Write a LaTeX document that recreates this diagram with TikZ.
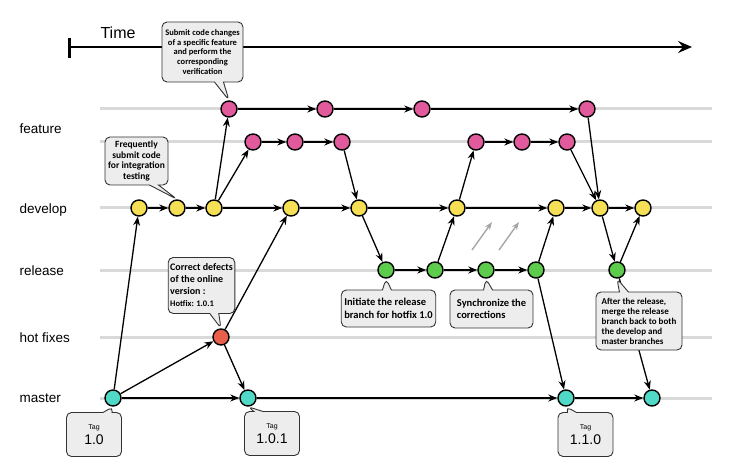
\documentclass[tikz,border=0pt]{standalone}
\usepackage{fontspec}
\setmainfont{Liberation Sans}
\newfontfamily\notefont{Carlito}
\usetikzlibrary{arrows.meta,shapes.callouts}

\definecolor{featpink}{HTML}{E05A9C}
\definecolor{devyellow}{HTML}{F4DF55}
\definecolor{relgreen}{HTML}{5DCB4C}
\definecolor{fixred}{HTML}{E8604A}
\definecolor{mastteal}{HTML}{4FD9C6}

\tikzset{
    commit/.style={circle, draw=black, line width=1.4pt, minimum size=16pt, inner sep=0pt},
    feat/.style={commit, fill=featpink},
    dev/.style={commit, fill=devyellow},
    rel/.style={commit, fill=relgreen},
    fix/.style={commit, fill=fixred},
    mast/.style={commit, fill=mastteal},
    lane/.style={black!15, line width=3pt},
    flow/.style={-{Stealth[length=9pt,width=7pt]}, line width=1.3pt},
    sync/.style={-{Stealth[length=8pt,width=6pt]}, line width=1.4pt, black!35},
    lanelabel/.style={anchor=west, font=\fontsize{13.5}{15}\selectfont},
    note/.style={rectangle callout, draw=black!80, fill=black!7, rounded corners=5pt,
        line width=0.9pt, inner sep=3pt, callout pointer width=9pt,
        font=\notefont\bfseries\fontsize{8.5}{9.8}\selectfont},
    tagnote/.style={note, align=center, minimum width=55pt, minimum height=44pt,
        font=\fontsize{14}{15}\selectfont}
}

\begin{document}
\begin{tikzpicture}[x=1pt,y=-1pt]
    \useasboundingbox (0,0) rectangle (733,470);

    % lanes
    \foreach \y in {109,142,208,270,337,398}
        \draw [lane] (100,\y) -- (712,\y);

    % time axis
    \coordinate (tstart) at (69,47);
    \coordinate (tend) at (692,47);
    \draw [line width=2pt, -{Stealth[length=14pt,width=12pt,inset=5pt]}] (tstart) -- (tend);
    \draw [line width=3pt] (69,38) -- (69,58);
    \node (time) [anchor=west, font=\fontsize{16}{18}\selectfont] at (97,33) {Time};

    % lane labels
    \node (lfeature) [lanelabel] at (16,129) {feature};
    \node (ldevelop) [lanelabel] at (16,210) {develop};
    \node (lrelease) [lanelabel] at (16,271) {release};
    \node (lhotfix)  [lanelabel] at (16,338) {hot fixes};
    \node (lmaster)  [lanelabel] at (16,398) {master};

    % commits
    \node (f1) [feat] at (229,109) {};
    \node (f2) [feat] at (325,109) {};
    \node (f3) [feat] at (422,109) {};
    \node (f4) [feat] at (587,109) {};

    \node (g1) [feat] at (253,142) {};
    \node (g2) [feat] at (295,142) {};
    \node (g3) [feat] at (342,142) {};
    \node (g4) [feat] at (476,142) {};
    \node (g5) [feat] at (522,142) {};
    \node (g6) [feat] at (567,142) {};

    \node (d1) [dev] at (139,208) {};
    \node (d2) [dev] at (177,208) {};
    \node (d3) [dev] at (214,208) {};
    \node (d4) [dev] at (291,208) {};
    \node (d5) [dev] at (359,208) {};
    \node (d6) [dev] at (457,208) {};
    \node (d7) [dev] at (556,208) {};
    \node (d8) [dev] at (600,208) {};
    \node (d9) [dev] at (643,208) {};

    \node (r1) [rel] at (386,270) {};
    \node (r2) [rel] at (435,270) {};
    \node (r3) [rel] at (486,270) {};
    \node (r4) [rel] at (536,270) {};
    \node (r5) [rel] at (617,270) {};

    \node (h1) [fix] at (221,337) {};

    \node (m1) [mast] at (113,398) {};
    \node (m2) [mast] at (248,398) {};
    \node (m3) [mast] at (566,398) {};
    \node (m4) [mast] at (652,398) {};

    % connections
    \draw [flow] (m1) -- (d1);
    \draw [flow] (m1) -- (h1);
    \draw [flow] (m1) -- (m2);
    \draw [flow] (h1) -- (m2);
    \draw [flow] (h1) -- (d4);

    \draw [flow] (d1) -- (d2);
    \draw [flow] (d2) -- (d3);
    \draw [flow] (d3) -- (f1);
    \draw [flow] (d3) -- (g1);
    \draw [flow] (d3) -- (d4);

    \draw [flow] (f1) -- (f2);
    \draw [flow] (f2) -- (f3);
    \draw [flow] (f3) -- (f4);
    \draw [flow] (f4) -- (d8);

    \draw [flow] (g1) -- (g2);
    \draw [flow] (g2) -- (g3);
    \draw [flow] (g3) -- (d5);

    \draw [flow] (d4) -- (d5);
    \draw [flow] (d5) -- (r1);
    \draw [flow] (d5) -- (d6);
    \draw [flow] (d6) -- (g4);
    \draw [flow] (g4) -- (g5);
    \draw [flow] (g5) -- (g6);
    \draw [flow] (g6) -- (d8);
    \draw [flow] (d6) -- (d7);
    \draw [flow] (d7) -- (d8);
    \draw [flow] (d8) -- (d9);

    \draw [flow] (r1) -- (r2);
    \draw [flow] (r2) -- (d6);
    \draw [flow] (r2) -- (r3);
    \draw [flow] (r3) -- (r4);
    \draw [flow] (r4) -- (d7);
    \draw [flow] (r4) -- (m3);

    \draw [flow] (d8) -- (r5);
    \draw [flow] (r5) -- (d9);
    \draw [flow] (r5) -- (m4);

    \draw [flow] (m2) -- (m3);
    \draw [flow] (m3) -- (m4);

    % corrections flowing back
    \coordinate (s1a) at (472,250);
    \coordinate (s1b) at (492,222);
    \coordinate (s2a) at (499,250);
    \coordinate (s2b) at (519,222);
    \draw [sync] (s1a) -- (s1b);
    \draw [sync] (s2a) -- (s2b);

    % notes
    \node (nfeature) [note, align=center, minimum width=81pt, minimum height=60pt,
        callout absolute pointer={(f1.north)}] at (202.5,52)
        {Submit code changes\\of a specific feature\\and perform the\\corresponding\\verification};
    \node (ndevelop) [note, align=center, minimum width=63pt, minimum height=48pt,
        font=\notefont\bfseries\fontsize{9.5}{10.5}\selectfont,
        callout absolute pointer={(d2.north)}] at (136.5,161)
        {Frequently\\submit code\\for integration\\testing};
    \node (nhotfix) [note, align=left, minimum width=64pt, minimum height=56pt,
        inner sep=2pt, font=\notefont\bfseries\fontsize{10}{12}\selectfont,
        callout absolute pointer={(h1.north)}] at (201.5,285.5)
        {Correct defects\\of the online\\version :\\{\fontsize{8.5}{10}\selectfont Hotfix: 1.0.1}};
    \node (ninit) [note, align=left, minimum width=87pt, minimum height=37pt,
        font=\notefont\bfseries\fontsize{10.5}{12.5}\selectfont,
        callout absolute pointer={(r1.south)}] at (388.5,308.5)
        {Initiate the release\\branch for hotfix 1.0};
    \node (nsync) [note, align=left, minimum width=83pt, minimum height=38pt,
        font=\notefont\bfseries\fontsize{10.5}{12.5}\selectfont,
        callout absolute pointer={(r3.south)}] at (491.5,309)
        {Synchronize the\\corrections};
    \node (nmerge) [note, align=left, minimum width=86pt, minimum height=58pt,
        font=\notefont\bfseries\fontsize{9}{10}\selectfont,
        callout absolute pointer={(r5.south)}] at (639,321)
        {After the release,\\merge the release\\branch back to both\\the develop and\\master branches};

    \node (t1) [tagnote, callout absolute pointer={(m1.south)}] at (94,434.5)
        {{\fontsize{7}{10}\selectfont Tag}\\1.0};
    \node (t2) [tagnote, callout absolute pointer={(m2.south)}] at (272,433.5)
        {{\fontsize{7}{10}\selectfont Tag}\\1.0.1};
    \node (t3) [tagnote, callout absolute pointer={(m3.south)}] at (585.5,434.5)
        {{\fontsize{7}{10}\selectfont Tag}\\1.1.0};

\end{tikzpicture}
\end{document}
